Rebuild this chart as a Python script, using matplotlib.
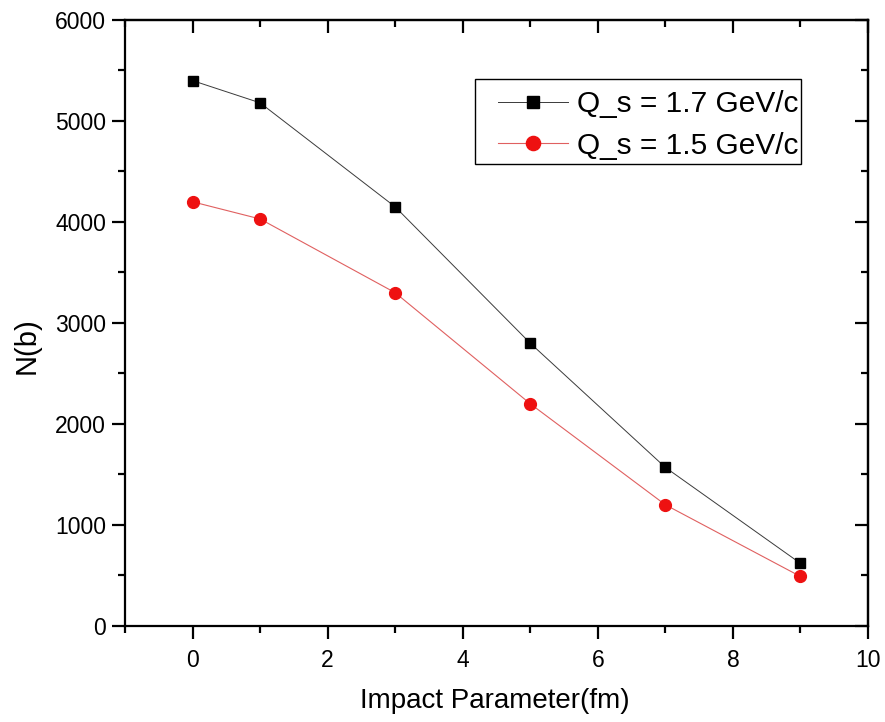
import matplotlib
matplotlib.use("Agg")
import matplotlib.pyplot as plt
from matplotlib.patches import Rectangle
from matplotlib.ticker import MultipleLocator

plt.rcParams["font.family"] = ["Liberation Sans", "DejaVu Sans"]

# impact parameter b (fm) and multiplicity N(b) for two saturation scales
impact_b = [0, 1, 3, 5, 7, 9]
n_qs17 = [5400, 5180, 4150, 2800, 1570, 620]
n_qs15 = [4200, 4030, 3300, 2200, 1200, 490]
series_labels = ["Q_s = 1.7 GeV/c", "Q_s = 1.5 GeV/c"]

fig = plt.figure(figsize=(8.85, 7.22), dpi=100, facecolor="white")
ax = fig.add_axes([0.1412, 0.1330, 0.8396, 0.8393])

ax.plot(impact_b, n_qs17, color="#3a3a3a", linewidth=0.7, marker="s",
        markersize=7.7, markerfacecolor="black", markeredgecolor="black",
        label=series_labels[0])
ax.plot(impact_b, n_qs15, color="#e06060", linewidth=0.8, marker="o",
        markersize=8.5, markerfacecolor="#ee1111", markeredgecolor="#ee1111",
        label=series_labels[1])

ax.set_xlim(-1, 10)
ax.set_ylim(0, 6000)
ax.xaxis.set_major_locator(MultipleLocator(2))
ax.xaxis.set_minor_locator(MultipleLocator(1))
ax.yaxis.set_major_locator(MultipleLocator(1000))
ax.yaxis.set_minor_locator(MultipleLocator(500))

for sp in ax.spines.values():
    sp.set_linewidth(1.6)

ax.tick_params(which="both", direction="out", width=1.6, labelsize=16.5,
               colors="black")
ax.tick_params(which="major", length=9.5)
ax.tick_params(which="minor", length=5)
ax.tick_params(axis="x", which="major", pad=7)
ax.tick_params(axis="y", which="major", pad=4)

# inward ticks on the top and right frame
top = ax.secondary_xaxis("top")
top.xaxis.set_major_locator(MultipleLocator(2))
top.xaxis.set_minor_locator(MultipleLocator(1))
top.tick_params(which="both", direction="in", width=1.6, labeltop=False)
top.tick_params(which="major", length=9.5)
top.tick_params(which="minor", length=5)
top.spines["top"].set_linewidth(1.6)

right = ax.secondary_yaxis("right")
right.yaxis.set_major_locator(MultipleLocator(1000))
right.yaxis.set_minor_locator(MultipleLocator(500))
right.tick_params(which="both", direction="in", width=1.6, labelright=False)
right.tick_params(which="major", length=9.5)
right.tick_params(which="minor", length=5)
right.spines["right"].set_linewidth(1.6)

ax.set_xlabel("Impact Parameter(fm)", fontsize=20)
ax.set_ylabel("N(b)", fontsize=21)
ax.xaxis.set_label_coords(0.498, -0.103)
ax.yaxis.set_label_coords(-0.114, 0.462)

# legend entries without frame, boxed by a plain rectangle
leg = ax.legend(loc="upper left", bbox_to_anchor=(0.502, 0.884),
                fontsize=21.5, frameon=False, handlelength=2.33,
                handletextpad=0.33, borderpad=0.0, labelspacing=0.45,
                borderaxespad=0.0, markerscale=1.2)
ax.add_patch(Rectangle((0.471, 0.762), 0.439, 0.141, transform=ax.transAxes,
                       facecolor="none", edgecolor="black", linewidth=1.0,
                       zorder=5))

fig.savefig("out.png", dpi=100, facecolor="white")
